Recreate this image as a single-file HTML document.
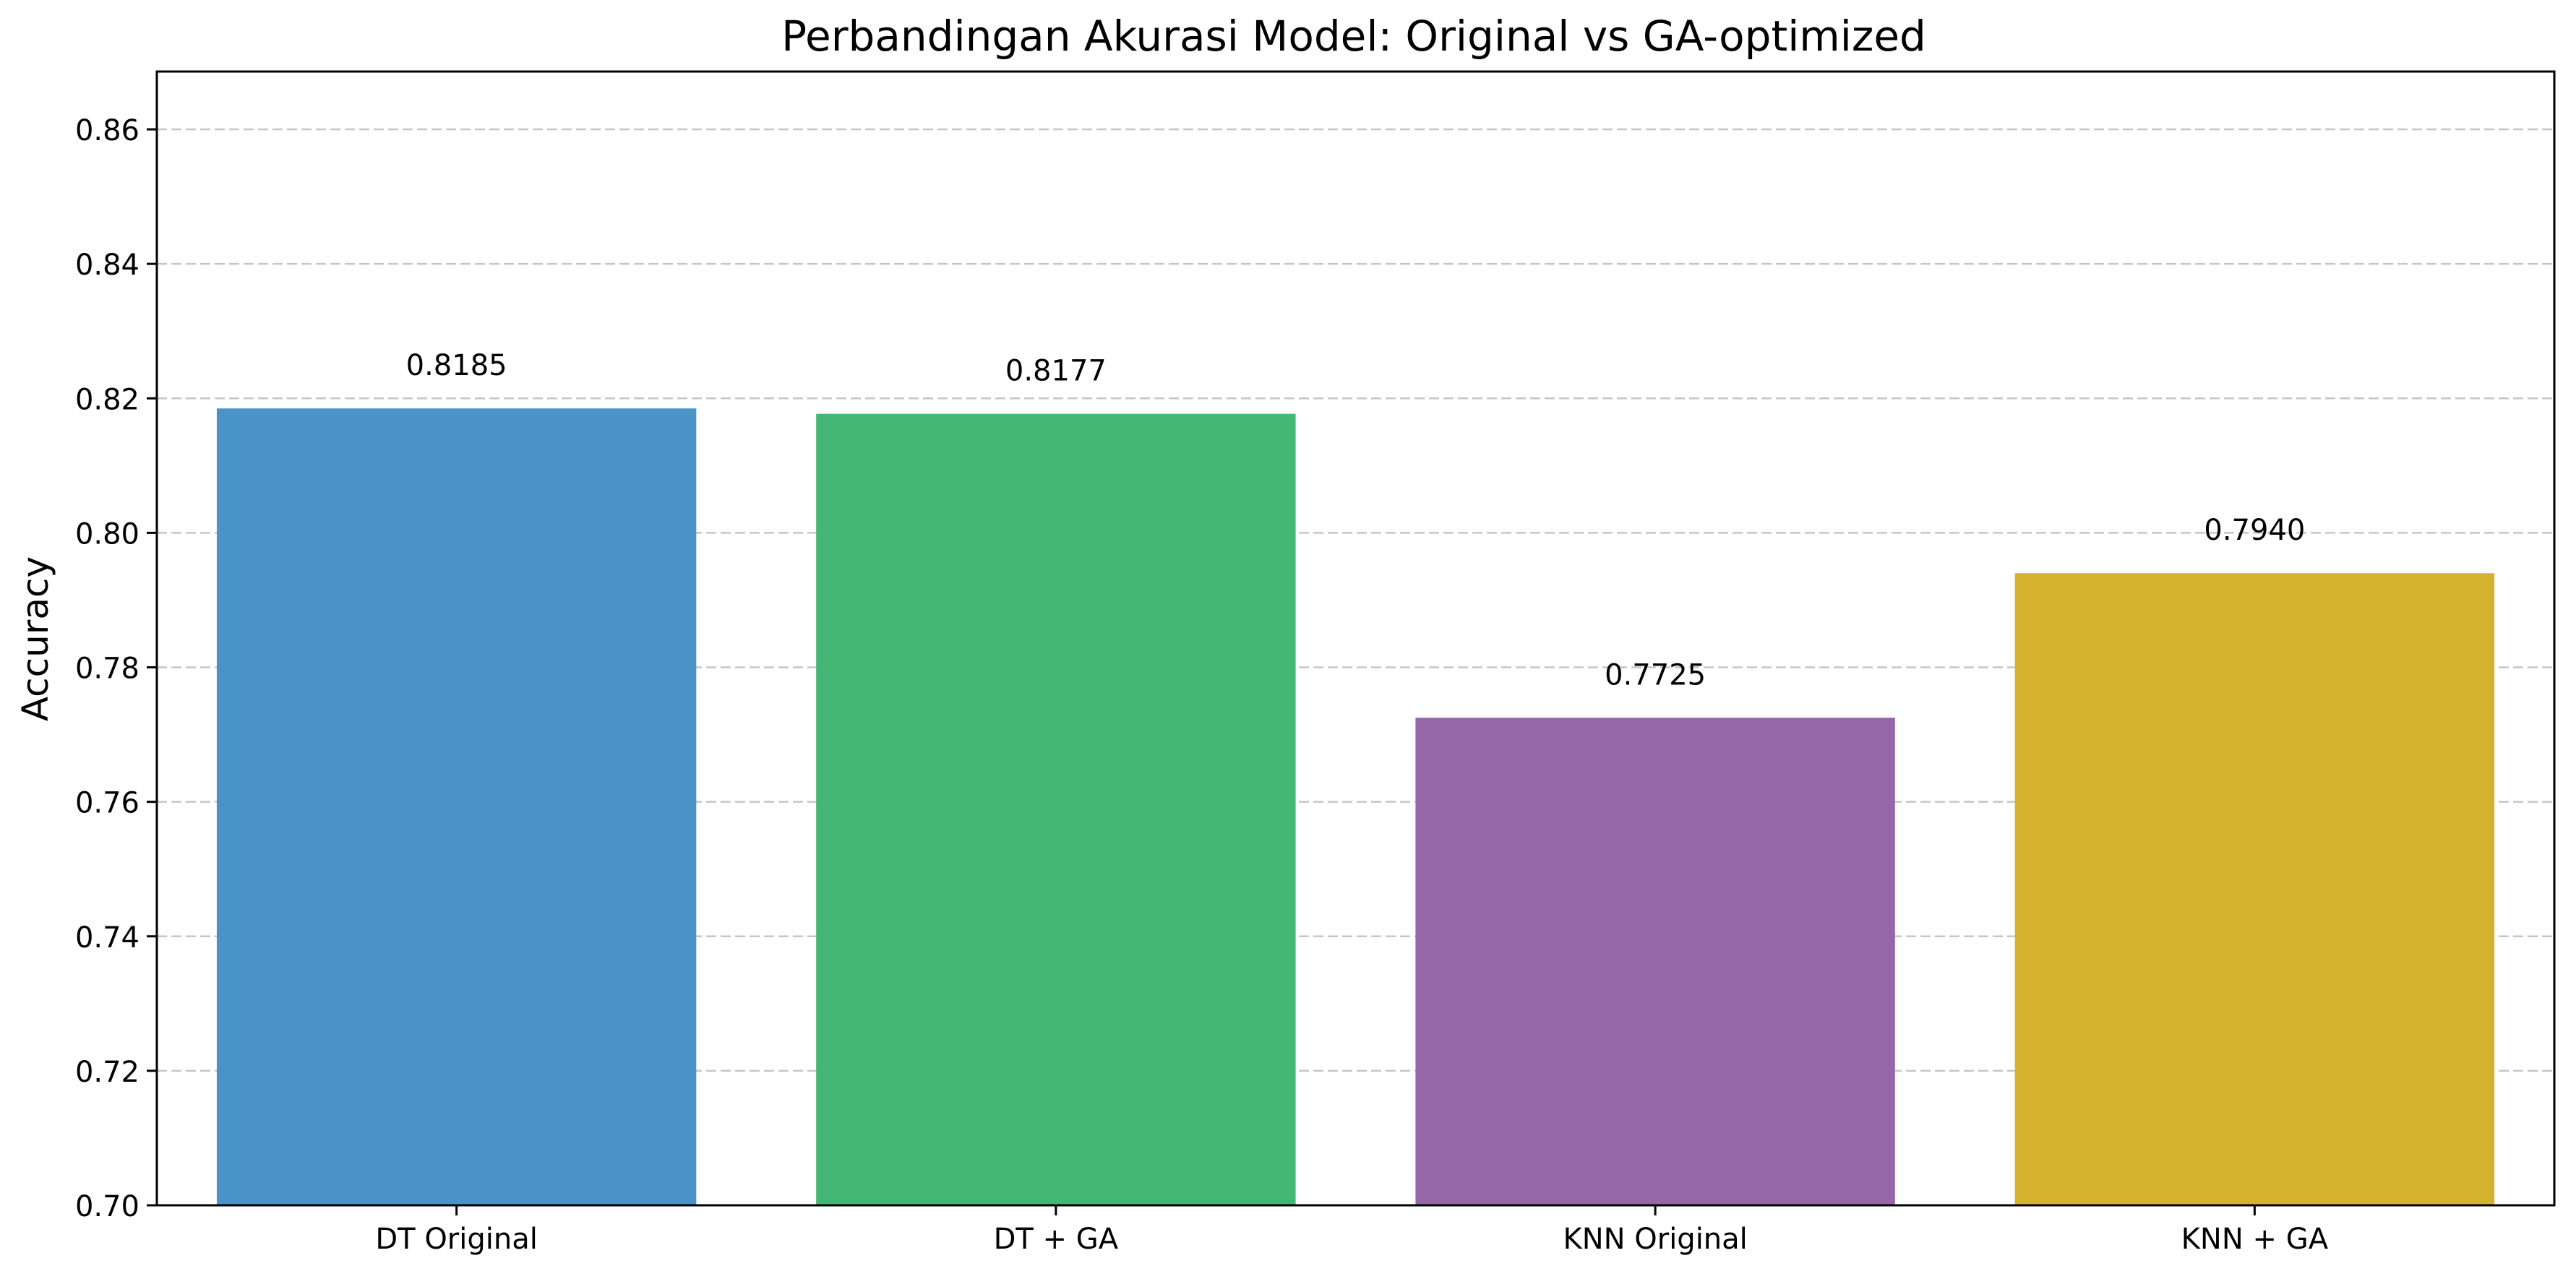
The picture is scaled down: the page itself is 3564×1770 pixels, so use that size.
<!DOCTYPE html>
<html><head><meta charset="utf-8"><style>
html,body{margin:0;padding:0;background:#fff;}
svg{display:block;font-family:"DejaVu Sans","Liberation Sans",sans-serif;}
</style></head><body>
<svg id="chart" width="3564" height="1770" viewBox="0 0 3564 1770" xmlns="http://www.w3.org/2000/svg">
<rect width="3564" height="1770" fill="#fff"/>
<text x="1873" y="70" text-anchor="middle" font-size="58">Perbandingan Akurasi Model: Original vs GA-optimized</text>
<text transform="translate(66,884) rotate(-90)" text-anchor="middle" font-size="50">Accuracy</text>
<g id="grid"></g><g id="bars"></g><g id="labels"></g><g id="axes"></g>
</svg>
<script>
const categories = ["DT Original","DT + GA","KNN Original","KNN + GA"];
const accuracies = [0.8185,0.8177,0.7725,0.7940];
const valueLabels = ["0.8185","0.8177","0.7725","0.7940"];
const yTicks = [0.70,0.72,0.74,0.76,0.78,0.80,0.82,0.84,0.86];
const yTickLabels = ["0.70","0.72","0.74","0.76","0.78","0.80","0.82","0.84","0.86"];
const colors = ["#4993c6","#45b775","#9566a8","#d4b22e"];

const NS="http://www.w3.org/2000/svg";
const L=217,R=3534,T=99,B=1668;
const yMin=0.70,yMax=0.8686;
const y=v=>B-(v-yMin)/(yMax-yMin)*(B-T);
const x=i=>L+(i+0.5)*(R-L)/4;
const bw=0.8*(R-L)/4;
function mk(tag,attrs,parent,txt){const e=document.createElementNS(NS,tag);for(const k in attrs)e.setAttribute(k,attrs[k]);if(txt!==undefined)e.textContent=txt;parent.appendChild(e);return e;}
const grid=document.getElementById('grid'),bars=document.getElementById('bars'),labels=document.getElementById('labels'),axes=document.getElementById('axes');
yTicks.forEach((t,i)=>{
  const g=mk('line',{x1:L,x2:R,y1:y(t),y2:y(t),stroke:'#c6c6c6','stroke-width':2.5,'stroke-dasharray':'14,6'},grid);
  
  
  const tk=mk('line',{x1:L-14,x2:L,y1:y(t),y2:y(t),stroke:'#000','stroke-width':3},axes);
  
  
  const tl=mk('text',{x:L-24,y:y(t)+15,'text-anchor':'end','font-size':40},axes,yTickLabels[i]);
  
  
});
categories.forEach((c,i)=>{
  const b=mk('rect',{x:x(i)-bw/2,y:y(accuracies[i]),width:bw,height:B-y(accuracies[i]),fill:colors[i]},bars);
  
  
  const v=mk('text',{x:x(i),y:y(accuracies[i])-46,'text-anchor':'middle','font-size':40},labels,valueLabels[i]);
  
  
  const tk=mk('line',{x1:x(i),x2:x(i),y1:B,y2:B+14,stroke:'#000','stroke-width':3},axes);
  
  
  const tl=mk('text',{x:x(i),y:B+60,'text-anchor':'middle','font-size':40},axes,c);
  
  
});
const frame=mk('rect',{x:L,y:T,width:R-L,height:B-T,fill:'none',stroke:'#000','stroke-width':3},axes);


</script>
</body></html>
